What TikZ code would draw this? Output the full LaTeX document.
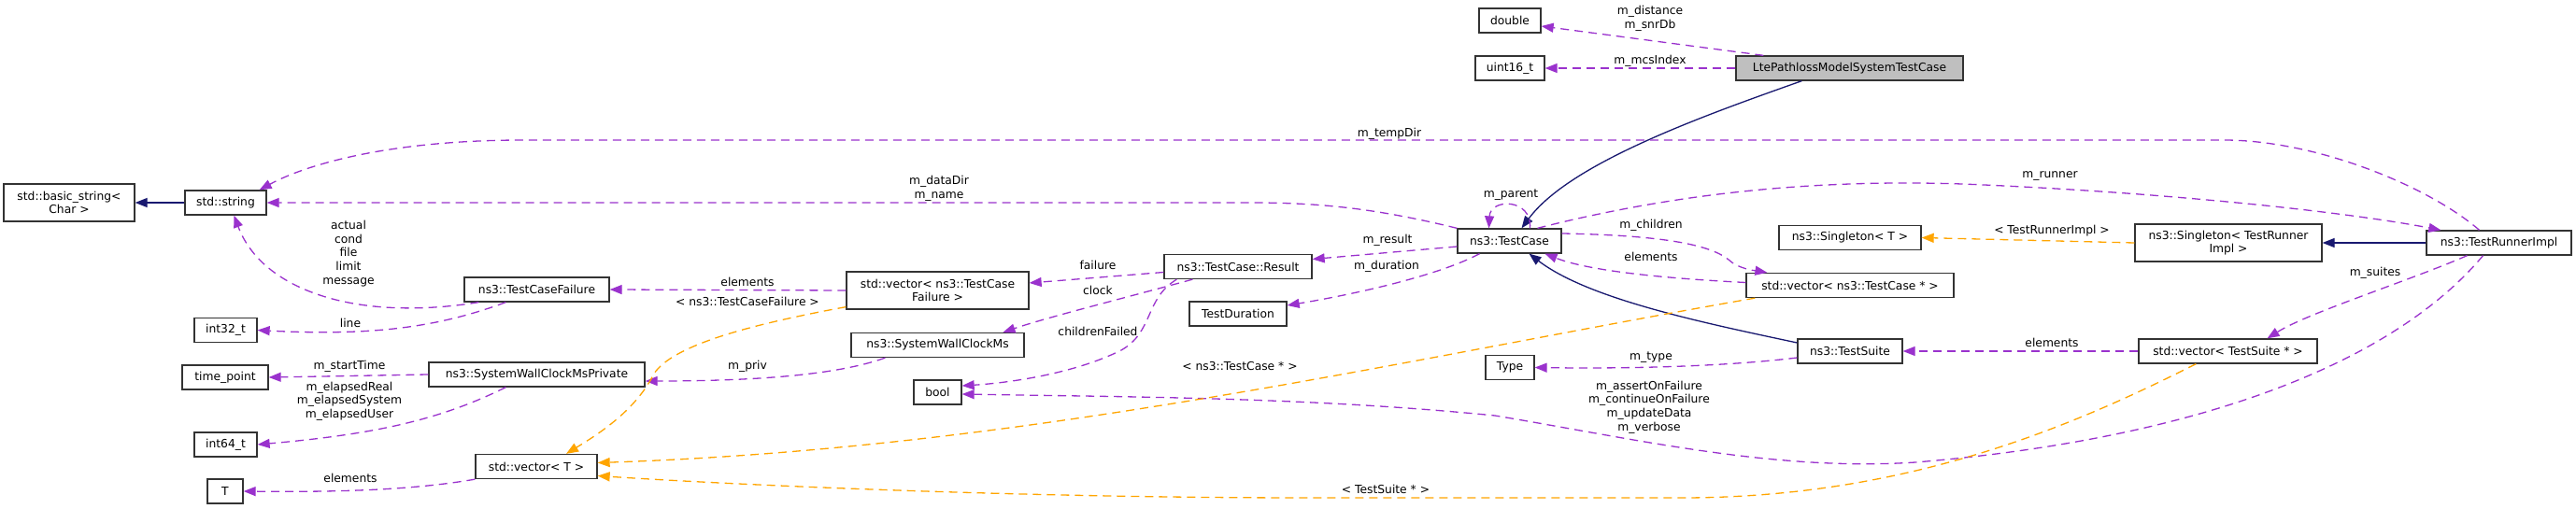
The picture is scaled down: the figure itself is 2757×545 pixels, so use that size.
\documentclass[tikz,border=0pt]{standalone}
\usepackage{fontspec}
\setmainfont{DejaVu Sans}
\usetikzlibrary{arrows.meta}
\definecolor{mempurple}{HTML}{9A32CD}
\definecolor{tplorange}{HTML}{FFA500}
\definecolor{inhblue}{HTML}{191970}
\tikzset{
	cls/.style={draw=black!80, line width=1.3pt, inner sep=0pt, align=center, minimum height=26pt, font=\fontsize{12.3}{14.7}\selectfont},
	lbl/.style={inner sep=0pt, align=center, font=\fontsize{12.3}{14.7}\selectfont},
	tip/.style={-{Triangle[length=13pt,width=10pt]}},
	mem/.style={tip, draw=mempurple, fill=none, line width=1.3pt, dash pattern=on 9pt off 6pt},
	tpl/.style={tip, draw=tplorange, line width=1.3pt, dash pattern=on 9pt off 6pt},
	inh/.style={tip, draw=inhblue, line width=1.3pt}
}

\begin{document}
\begin{tikzpicture}[x=1pt, y=-1pt]
		%%%%% START %%%%%
		\useasboundingbox (0,0) rectangle (2757,545);
		
		% classes
		\node[cls, minimum width=243pt, fill=black!25] (lte) at (1979.5,73) {LtePathlossModelSystemTestCase};
		\node[cls, minimum width=66pt] (dbl) at (1616,22) {double};
		\node[cls, minimum width=74pt] (uint) at (1616,73) {uint16\_t};
		\node[cls, minimum width=111pt] (tcase) at (1615.5,258) {ns3::TestCase};
		\node[cls, minimum width=140pt, minimum height=40pt] (bstr) at (74,217) {std::basic\_string\textless\\Char \textgreater};
		\node[cls, minimum width=87pt] (str) at (241.5,217) {std::string};
		\node[cls, minimum width=155pt] (tcf) at (574.5,310) {ns3::TestCaseFailure};
		\node[cls, minimum width=67pt] (i32) at (241.5,353.5) {int32\_t};
		\node[cls, minimum width=92pt] (tp) at (241,404) {time\_point};
		\node[cls, minimum width=231pt] (swcmp) at (574.5,401) {ns3::SystemWallClockMsPrivate};
		\node[cls, minimum width=67pt] (i64) at (241.5,476) {int64\_t};
		\node[cls, minimum width=38pt] (tT) at (241,526) {T};
		\node[cls, minimum width=130pt] (vecT) at (574,499.5) {std::vector\textless{} T \textgreater};
		\node[cls, minimum width=195pt, minimum height=40pt] (vtcf) at (1003.5,311) {std::vector\textless{} ns3::TestCase\\Failure \textgreater};
		\node[cls, minimum width=158pt] (res) at (1325,285.5) {ns3::TestCase::Result};
		\node[cls, minimum width=104pt] (dur) at (1325,336) {TestDuration};
		\node[cls, minimum width=185pt] (swcm) at (1003.5,369.5) {ns3::SystemWallClockMs};
		\node[cls, minimum width=51pt] (bool) at (1003.5,420) {bool};
		\node[cls, minimum width=152pt] (sgT) at (1980,254.5) {ns3::Singleton\textless{} T \textgreater};
		\node[cls, minimum width=222pt] (vtc) at (1980,305.5) {std::vector\textless{} ns3::TestCase * \textgreater};
		\node[cls, minimum width=112pt] (suite) at (1980,376) {ns3::TestSuite};
		\node[cls, minimum width=52pt] (type) at (1616,393.5) {Type};
		\node[cls, minimum width=200pt, minimum height=40pt] (sgR) at (2385,260) {ns3::Singleton\textless{} TestRunner\\Impl \textgreater};
		\node[cls, minimum width=155pt] (runner) at (2674.5,260) {ns3::TestRunnerImpl};
		\node[cls, minimum width=191pt] (vts) at (2384.5,376) {std::vector\textless{} TestSuite * \textgreater};
		
		% inheritance
		\draw[inh] ([xshift=71pt]lte.south west) .. controls (1820,125) and (1680,175) .. ([xshift=13pt]tcase.north);
		\draw[inh] (str.west) -- (bstr.east);
		\draw[inh] ([yshift=9pt]suite.west) .. controls (1820,345) and (1700,320) .. ([xshift=21pt]tcase.south);
		\draw[inh] (runner.west) -- (sgR.east);
		
		% members
		\draw[mem] ([xshift=30pt]lte.north west) -- ([yshift=-6pt]dbl.east);
		\draw[mem] (lte.west) -- (uint.east);
		\draw[mem] ([xshift=-21pt]runner.north) .. controls (2600,200) and (2480,150) .. (2380,150) -- (560,150) .. controls (420,150) and (330,175) .. ([xshift=-8pt]str.north east);
		\draw[mem] (tcase.north west) .. controls (1480,225) and (1420,217) .. (1340,217) -- (str.east);
		\draw[mem] ([xshift=16pt]tcf.south west) .. controls (380,345) and (280,310) .. ([xshift=9pt]str.south);
		\draw[mem] ([xshift=45pt]tcf.south west) .. controls (470,350) and (400,360) .. (i32.east);
		\draw[mem] (swcmp.west) -- (tp.east);
		\draw[mem] ([xshift=83pt]swcmp.south west) .. controls (470,450) and (400,465) .. (i64.east);
		\draw[mem] (vecT.south west) .. controls (440,525) and (360,527) .. (tT.east);
		\draw[mem] (vtcf.west) -- (tcf.east);
		\draw[mem] ([xshift=37pt]swcm.south west) .. controls (900,400) and (820,408) .. ([yshift=-7pt]swcmp.east);
		\draw[mem] ([xshift=22pt]tcase.north) .. controls (1640,212) and (1595,212) .. ([xshift=-22pt]tcase.north);
		\draw[mem] ([yshift=-6pt]tcase.west) -- ([yshift=8pt]res.east);
		\draw[mem] ([xshift=-32pt]tcase.south) .. controls (1540,295) and (1450,315) .. ([yshift=9pt]dur.east);
		\draw[mem] ([yshift=-6pt]res.west) -- ([yshift=8pt]vtcf.east);
		\draw[mem] ([xshift=31pt]res.south west) .. controls (1200,320) and (1120,340) .. ([xshift=70pt]swcm.north);
		\draw[mem] ([xshift=14pt]res.south west) .. controls (1225,320) and (1235,355) .. (1200,375) .. controls (1150,400) and (1080,410) .. ([yshift=7pt]bool.east);
		\draw[mem] ([xshift=-17pt]runner.south) .. controls (2560,390) and (2350,470) .. (2050,495) .. controls (1900,505) and (1750,470) .. (1600,445) .. controls (1400,425) and (1200,425) .. ([yshift=-2pt]bool.east);
		\draw[mem] ([xshift=30pt]tcase.north) .. controls (1800,205) and (1950,192) .. (2100,197) .. controls (2300,205) and (2500,225) .. ([xshift=16pt]runner.north west);
		\draw[mem] ([yshift=8pt]tcase.east) .. controls (1780,252) and (1830,262) .. (1850,278) .. controls (1860,288) and (1880,290) .. ([xshift=23pt]vtc.north west);
		\draw[mem] ([yshift=3pt]vtc.west) .. controls (1780,298) and (1700,290) .. ([xshift=38pt]tcase.south);
		\draw[mem] (vts.west) -- (suite.east);
		\draw[mem] ([yshift=-7pt]suite.west) .. controls (1850,392) and (1750,395) .. (type.east);
		\draw[mem] ([xshift=-34pt]runner.south) .. controls (2580,300) and (2470,335) .. ([xshift=42pt]vts.north);
		
		% templates
		\draw[tpl] ([yshift=3pt]vtcf.south west) .. controls (800,348) and (720,370) .. (700,400) .. controls (680,440) and (640,465) .. ([xshift=32pt]vecT.north);
		\draw[tpl] ([xshift=10pt]vtc.south west) .. controls (1500,385) and (1100,480) .. ([yshift=4pt]vecT.east);
		\draw[tpl] ([xshift=62pt]vts.south west) .. controls (2230,450) and (2050,533) .. (1800,533) -- (1400,533) .. controls (1100,533) and (800,520) .. ([yshift=-10pt]vecT.east);
		\draw[tpl] (sgR.west) -- (sgT.east);
		
		% labels
		\node[lbl] (lDist) at (1766,19.5) {m\_distance\\m\_snrDb};
		\node[lbl] (lMcs) at (1766,65) {m\_mcsIndex};
		\node[lbl] (lTemp) at (1487,143) {m\_tempDir};
		\node[lbl] (lData) at (1005,202) {m\_dataDir\\m\_name};
		\node[lbl] (lFail) at (373,271.5) {actual\\cond\\file\\limit\\message};
		\node[lbl] (lLine) at (375,346) {line};
		\node[lbl] (lStart) at (374,392) {m\_startTime};
		\node[lbl] (lElapsed) at (374,429.5) {m\_elapsedReal\\m\_elapsedSystem\\m\_elapsedUser};
		\node[lbl] (lElemT) at (375,512) {elements};
		\node[lbl] (lElemF) at (800,302) {elements};
		\node[lbl] (lTcfT) at (800,323) {\textless{} ns3::TestCaseFailure \textgreater};
		\node[lbl] (lPriv) at (800,392) {m\_priv};
		\node[lbl] (lTcT) at (1327,392) {\textless{} ns3::TestCase * \textgreater};
		\node[lbl] (lTsT) at (1483,524) {\textless{} TestSuite * \textgreater};
		\node[lbl] (lParent) at (1617,209) {m\_parent};
		\node[lbl] (lResult) at (1485,257) {m\_result};
		\node[lbl] (lDur) at (1484,285) {m\_duration};
		\node[lbl] (lFailure) at (1175,284) {failure};
		\node[lbl] (lClock) at (1175,311) {clock};
		\node[lbl] (lChild) at (1175,355) {childrenFailed};
		\node[lbl] (lFlags) at (1765,436) {m\_assertOnFailure\\m\_continueOnFailure\\m\_updateData\\m\_verbose};
		\node[lbl] (lRunner) at (2194,189) {m\_runner};
		\node[lbl] (lChildren) at (1767,241) {m\_children};
		\node[lbl] (lElemC) at (1767,275) {elements};
		\node[lbl] (lElemS) at (2196,367) {elements};
		\node[lbl] (lType) at (1767,383) {m\_type};
		\node[lbl] (lSgl) at (2196,247) {\textless{} TestRunnerImpl \textgreater};
		\node[lbl] (lSuites) at (2542,292) {m\_suites};
		
		%%%%% END %%%%%
\end{tikzpicture}
\end{document}
